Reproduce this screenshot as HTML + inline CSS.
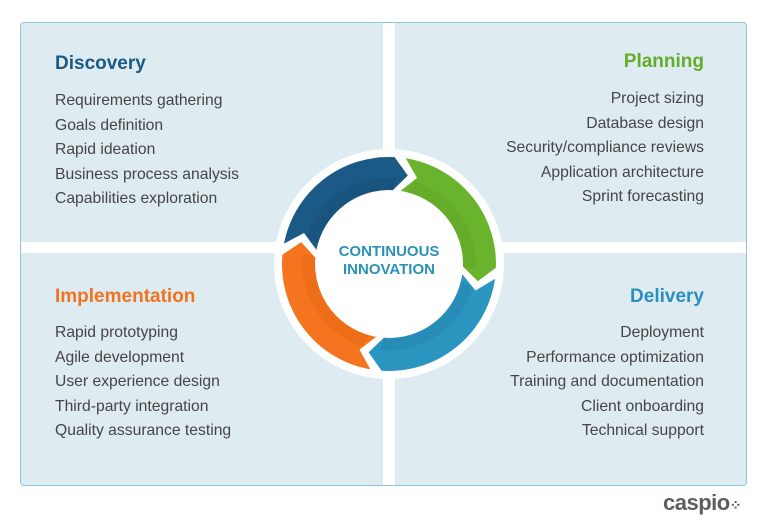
<!DOCTYPE html>
<html><head><style>
body{margin:0;width:768px;height:529px;background:#fff;position:relative;font-family:"Liberation Sans",sans-serif;overflow:hidden}
.box{position:absolute;left:20px;top:22px;width:725px;height:462px;background:#deecf1;border:1px solid #8cc8d8;border-radius:4px}
.v{position:absolute;left:383px;top:23px;width:12px;height:462px;background:#fff}
.h{position:absolute;left:21px;top:242px;width:725px;height:11px;background:#fff}
.t{position:absolute;font-size:15.7px;color:#454545;line-height:24.5px;white-space:nowrap}
.hd{position:absolute;font-size:19px;font-weight:bold;white-space:nowrap}
.r{text-align:right}
</style></head><body>
<div class="box"></div><div class="v"></div><div class="h"></div>
<div class="hd" style="left:55px;top:53px;color:#1b5a86">Discovery</div>
<div class="t" style="left:55px;top:89px">Requirements gathering<br>Goals definition<br>Rapid ideation<br>Business process analysis<br>Capabilities exploration</div>
<div class="hd r" style="right:64px;top:51px;color:#63ad2a">Planning</div>
<div class="t r" style="right:64px;top:87px">Project sizing<br>Database design<br>Security/compliance reviews<br>Application architecture<br>Sprint forecasting</div>
<div class="hd" style="left:55px;top:286px;color:#f0731f">Implementation</div>
<div class="t" style="left:55px;top:321px">Rapid prototyping<br>Agile development<br>User experience design<br>Third-party integration<br>Quality assurance testing</div>
<div class="hd r" style="right:64px;top:286px;color:#2a8fc0">Delivery</div>
<div class="t r" style="right:64px;top:321px">Deployment<br>Performance optimization<br>Training and documentation<br>Client onboarding<br>Technical support</div>
<svg id="s" style="position:absolute;left:0;top:0" width="768" height="529"></svg>
<div style="position:absolute;left:289px;top:243px;width:200px;text-align:center;font-size:15px;font-weight:bold;color:#2a92b8;line-height:18px">CONTINUOUS<br>INNOVATION</div>
<div style="position:absolute;left:663px;top:490px;font-size:22px;font-weight:bold;color:#5e5e5e;letter-spacing:-0.5px">caspio<span style="font-size:14px;color:#555">⁘</span></div>
<script>
var cx=389,cy=264,R=107,r=74,m=(R+r)/2,g=3,d=9;
var s=document.getElementById('s');
function p(a,rad){a=a*Math.PI/180;return (cx+rad*Math.cos(a)).toFixed(1)+','+(cy+rad*Math.sin(a)).toFixed(1)}
var segs=[[-84,5,'#6ab42d','#5ea326'],[5,97,'#2a96c0','#2384ad'],[97,188,'#f5741f','#e8650f'],[188,276,'#1b5a86','#154d74']];
var h='<circle cx="'+cx+'" cy="'+cy+'" r="115" fill="#fff"/>';
segs.forEach(function(q){
 var a0=q[0]+g,a1=q[1]-g;
 function path(Ro,ri){var mm=(Ro+ri)/2;return 'M'+p(a0,Ro)+' A'+Ro+','+Ro+' 0 0 1 '+p(a1,Ro)+' L'+p(a1+d,mm)+' L'+p(a1,ri)+' A'+ri+','+ri+' 0 0 0 '+p(a0,ri)+' L'+p(a0+d,mm)+' Z';}
 h+='<path d="'+path(R,r)+'" fill="'+q[2]+'"/>';
 h+='<path d="M'+p(a0+8,m-4)+' A'+(m-4)+','+(m-4)+' 0 0 1 '+p(a1+2,m-4)+' L'+p(a1,r)+' A'+r+','+r+' 0 0 0 '+p(a0+5,r)+' Z" fill="'+q[3]+'" opacity="0.5"/>';
});
s.innerHTML=h;
</script>
</body></html>
